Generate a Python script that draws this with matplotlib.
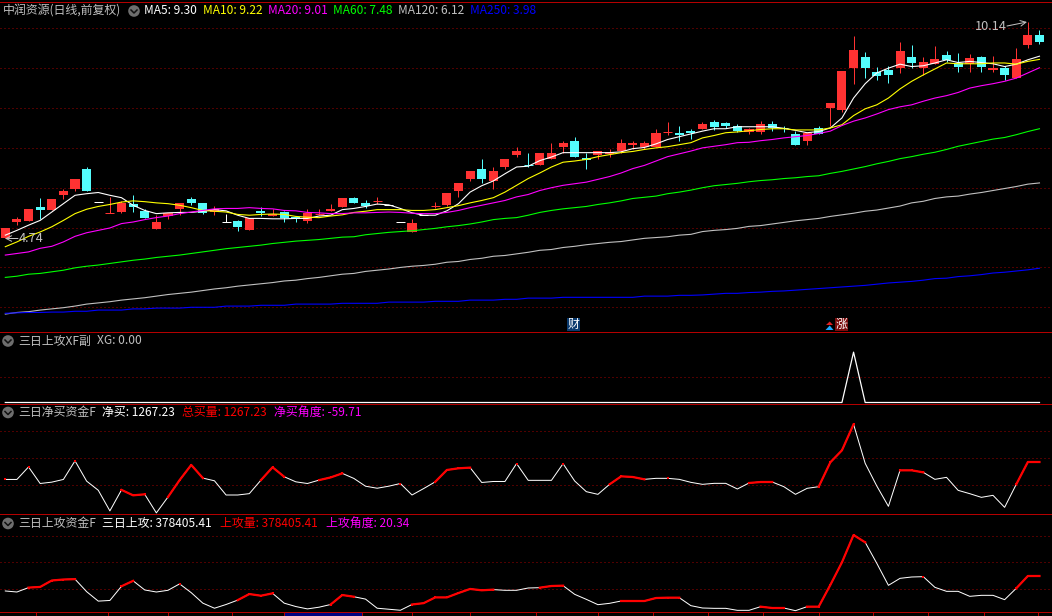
import matplotlib
matplotlib.use('Agg')
import matplotlib.pyplot as plt
import numpy as np
from matplotlib.patches import Rectangle, Circle, Polygon

plt.rcParams['font.family'] = ['Noto Sans CJK SC', 'DejaVu Sans']

W, H = 1052, 616

# daily candles
opens = [4.73,5.13,5.16,5.51,5.43,5.81,5.98,6.48,5.63,5.37,5.38,5.58,5.41,4.96,5.28,5.46,5.71,5.61,5.38,5.15,
         5.16,4.93,5.41,5.28,5.38,5.26,5.16,5.33,5.41,5.51,5.73,5.61,5.67,5.57,5.13,4.88,5.31,5.54,5.56,5.93,
         6.21,6.46,6.18,6.53,6.83,6.56,6.56,6.73,7.01,7.18,6.75,6.83,6.85,6.93,7.06,7.01,7.01,7.39,7.38,7.43,
         7.48,7.66,7.63,7.56,7.41,7.41,7.61,7.50,7.36,7.16,7.51,8.01,7.96,9.01,9.28,8.91,8.96,9.01,9.28,9.01,
         9.11,9.33,9.13,9.11,9.28,8.96,9.01,8.76,9.58,9.83]
closes = [5.00,5.21,5.46,5.43,5.71,5.93,6.23,5.93,5.63,5.38,5.61,5.51,5.23,5.13,5.36,5.61,5.61,5.36,5.46,5.15,
          5.01,5.23,5.36,5.33,5.23,5.21,5.36,5.34,5.46,5.73,5.61,5.53,5.68,5.57,5.13,5.11,5.31,5.55,5.86,6.11,
          6.41,6.21,6.41,6.73,6.91,6.55,6.88,6.88,7.13,6.78,6.69,6.91,6.90,7.13,7.13,7.11,7.38,7.40,7.33,7.38,
          7.61,7.53,7.56,7.43,7.48,7.61,7.51,7.49,7.08,7.38,7.36,8.13,8.93,9.46,9.01,8.81,8.83,9.43,9.13,9.16,
          9.23,9.21,9.03,9.26,9.03,9.01,8.83,9.23,9.83,9.66]
highs = [5.00,5.27,5.46,5.73,5.71,5.98,6.23,6.53,5.63,5.76,5.66,5.81,5.46,5.31,5.36,5.61,5.76,5.61,5.53,5.33,
         5.18,5.23,5.51,5.46,5.41,5.28,5.46,5.46,5.58,5.73,5.76,5.68,5.76,5.57,5.13,5.21,5.31,5.63,5.86,6.13,
         6.41,6.73,6.51,6.73,7.03,6.88,6.88,7.13,7.18,7.28,6.86,6.93,6.98,7.23,7.18,7.18,7.48,7.66,7.56,7.48,
         7.66,7.71,7.66,7.61,7.51,7.68,7.68,7.56,7.43,7.38,7.56,8.13,8.93,9.81,9.41,9.03,9.06,9.66,9.58,9.28,
         9.56,9.43,9.38,9.36,9.31,9.31,9.06,9.51,10.16,9.96]
lows = [4.73,5.06,5.16,5.21,5.43,5.71,5.93,5.93,5.63,5.37,5.36,5.38,5.23,4.96,5.21,5.31,5.56,5.33,5.31,5.15,
        4.91,4.93,5.28,5.28,5.13,5.13,5.11,5.31,5.41,5.51,5.61,5.48,5.60,5.57,5.13,4.88,5.31,5.49,5.53,5.76,
        6.18,6.13,5.98,6.48,6.78,6.53,6.56,6.73,6.88,6.78,6.48,6.71,6.76,6.86,6.96,6.98,7.01,7.33,7.18,7.23,
        7.48,7.46,7.51,7.41,7.36,7.36,7.43,7.41,7.08,7.08,7.36,7.56,7.91,8.61,8.76,8.71,8.63,8.88,9.01,8.83,
        9.11,9.16,8.91,8.91,8.91,8.91,8.71,8.76,9.51,9.61]

# moving averages
ma5 = [4.81,4.93,5.06,5.18,5.39,5.60,5.81,5.85,5.88,5.81,5.75,5.56,5.43,5.35,5.37,5.38,5.38,5.41,5.45,5.42,
       5.31,5.23,5.23,5.22,5.22,5.23,5.23,5.29,5.31,5.45,5.48,5.53,5.59,5.57,5.48,5.37,5.31,5.31,5.42,5.60,
       5.89,6.05,6.17,6.35,6.52,6.54,6.68,6.77,6.88,6.88,6.88,6.88,6.88,6.90,6.98,7.01,7.10,7.21,7.28,7.35,
       7.42,7.48,7.48,7.53,7.53,7.53,7.53,7.49,7.44,7.38,7.41,7.50,7.75,8.25,8.61,8.88,9.00,9.10,9.04,9.06,
       9.13,9.21,9.14,9.17,9.14,9.11,9.04,9.10,9.21,9.30]
ma10 = [4.52,4.64,4.78,4.89,5.02,5.18,5.35,5.46,5.53,5.58,5.64,5.67,5.65,5.62,5.60,5.56,5.50,5.43,5.41,5.39,
        5.33,5.31,5.33,5.34,5.33,5.28,5.26,5.25,5.29,5.32,5.38,5.41,5.45,5.45,5.45,5.43,5.43,5.45,5.50,5.55,
        5.62,5.68,5.75,5.89,6.06,6.23,6.37,6.52,6.64,6.67,6.71,6.78,6.83,6.88,6.91,6.96,7.00,7.03,7.08,7.13,
        7.25,7.31,7.38,7.40,7.43,7.46,7.48,7.48,7.45,7.45,7.45,7.50,7.58,7.81,7.98,8.08,8.25,8.48,8.67,8.83,
        8.98,9.13,9.11,9.11,9.11,9.13,9.13,9.10,9.17,9.22]
ma20 = [4.31,4.35,4.39,4.48,4.53,4.64,4.78,4.87,4.93,4.99,5.10,5.14,5.20,5.25,5.29,5.35,5.39,5.43,5.47,5.48,
        5.48,5.50,5.48,5.47,5.43,5.42,5.38,5.37,5.35,5.35,5.37,5.37,5.38,5.39,5.38,5.36,5.35,5.35,5.38,5.43,
        5.50,5.56,5.62,5.68,5.77,5.83,5.93,6.00,6.06,6.10,6.14,6.21,6.28,6.37,6.48,6.56,6.67,6.78,6.85,6.92,
        7.00,7.04,7.08,7.13,7.14,7.18,7.21,7.25,7.28,7.31,7.36,7.42,7.56,7.67,7.75,7.85,7.96,8.03,8.08,8.17,
        8.25,8.31,8.39,8.50,8.56,8.61,8.67,8.75,8.88,9.01]
ma60 = [3.75,3.78,3.83,3.85,3.89,3.93,3.99,4.03,4.06,4.10,4.14,4.18,4.21,4.25,4.28,4.31,4.35,4.39,4.43,4.47,
        4.50,4.53,4.56,4.60,4.63,4.66,4.68,4.70,4.73,4.76,4.77,4.82,4.85,4.88,4.90,4.92,4.95,4.98,5.02,5.05,
        5.09,5.14,5.20,5.23,5.25,5.31,5.38,5.43,5.47,5.50,5.53,5.58,5.62,5.67,5.73,5.76,5.79,5.85,5.89,5.94,
        6.00,6.05,6.08,6.11,6.15,6.18,6.20,6.23,6.25,6.28,6.30,6.36,6.41,6.47,6.53,6.60,6.66,6.73,6.78,6.84,
        6.89,6.96,7.04,7.10,7.16,7.22,7.26,7.33,7.41,7.48]
ma120 = [2.83,2.87,2.89,2.93,2.96,2.99,3.03,3.08,3.11,3.14,3.18,3.21,3.24,3.28,3.32,3.35,3.38,3.42,3.46,3.49,
         3.53,3.56,3.59,3.62,3.66,3.68,3.72,3.75,3.79,3.83,3.85,3.90,3.93,3.96,4.00,4.03,4.05,4.08,4.13,4.15,
         4.20,4.23,4.28,4.30,4.34,4.38,4.43,4.45,4.50,4.53,4.57,4.60,4.63,4.65,4.69,4.73,4.75,4.77,4.81,4.83,
         4.90,4.93,4.95,4.98,5.03,5.05,5.09,5.13,5.17,5.20,5.23,5.28,5.32,5.36,5.41,5.44,5.49,5.54,5.62,5.66,
         5.73,5.77,5.79,5.84,5.88,5.93,5.98,6.03,6.09,6.12]
ma250 = [2.85,2.86,2.87,2.87,2.88,2.88,2.90,2.90,2.93,2.93,2.93,2.96,2.96,2.98,2.98,2.98,3.00,3.00,3.00,3.03,
         3.03,3.03,3.05,3.05,3.05,3.08,3.08,3.08,3.08,3.10,3.10,3.10,3.10,3.13,3.13,3.13,3.13,3.15,3.15,3.15,
         3.18,3.18,3.18,3.20,3.20,3.23,3.23,3.23,3.25,3.25,3.25,3.25,3.25,3.25,3.25,3.28,3.28,3.28,3.30,3.30,
         3.31,3.33,3.35,3.35,3.37,3.38,3.40,3.41,3.43,3.45,3.47,3.49,3.51,3.53,3.55,3.58,3.61,3.63,3.65,3.68,
         3.72,3.73,3.77,3.79,3.82,3.86,3.88,3.91,3.94,3.98]

# sub panels
xg = [0]*73 + [1] + [0]*16
net_buy = [395,395,1020,192,260,395,1324,310,-146,-1177,-129,-399,-349,-1278,-484,361,1121,462,327,-383,
           -383,-315,361,1003,530,276,192,361,496,699,445,57,-45,57,192,-383,-62,276,868,952,
           986,243,293,293,1189,350,350,350,1184,317,-216,-350,150,550,517,400,450,450,400,250,
           150,200,200,-83,217,267,267,33,-350,-50,33,1250,1850,3150,1200,67,-950,850,850,750,
           400,500,-150,-317,-500,-400,-1000,150,1267,1267]
attack = [288500,282400,308800,312800,351400,357400,359500,284400,227700,231700,316900,349400,294600,282400,292600,
          331100,278400,215500,185100,207400,233700,270200,260100,274300,215500,195200,181000,191200,207400,264200,
          254000,239800,185100,179000,172900,207400,215500,249900,249900,276300,300700,292600,296600,292600,292600,
          306400,308400,318400,320400,268400,238400,206400,214400,228400,228400,228400,246400,248400,248400,200400,
          186400,184400,184400,172400,172400,194400,186400,186400,170400,194400,194400,324400,460400,624400,580400,
          454400,322400,364400,372400,374400,310400,286400,286400,256400,262400,262400,236400,304400,378405,378405]
net_red = [0,2,6,10,11,12,14,15,16,17,22,23,24,27,28,29,34,37,38,39,40,44,48,52,53,54,55,57,64,65,66,70,71,72,73,77,78,79,87,88,89]
attack_red = [2,3,4,5,6,10,11,15,20,21,22,23,28,29,30,35,36,37,38,39,40,41,42,46,47,48,53,54,55,56,57,58,
              65,66,67,69,70,71,72,73,74,79,87,88,89]

# bottom axis tick places, in candle numbers
date_ticks = [2.6,8.84,14,19.5,35,40,45.7,51,55.7,60.5,65.2,70,74.7,79.4,84.2,88.9]

RED = '#ff3232'
CYAN = '#54fcfc'
SEP = '#b40000'
GRID = '#a00000'
SILVER = '#c0c0c0'

fig = plt.figure(figsize=(W / 100, H / 100), dpi=100, facecolor='black')
x = np.arange(len(opens))
xlim = (-5.3 / 11.62, (W - 5.3) / 11.62)


def panel(top, bottom, y_top, y_bottom, grid):
    ax = fig.add_axes([0, 1 - bottom / H, 1, (bottom - top) / H], facecolor='black')
    ax.set_xlim(xlim)
    ax.set_ylim(y_bottom, y_top)
    ax.axis('off')
    for g in grid:
        ax.axhline(g, color=GRID, lw=0.72, ls=(0, (1, 3)), zorder=1)
    return ax


# main chart
ax = panel(0, 332, 10.71, 2.38, [10, 9, 8, 7, 6, 5, 4, 3])

for i in x:
    o, c, h, l = opens[i], closes[i], highs[i], lows[i]
    col = RED if c > o else CYAN if c < o else 'white'
    ax.vlines(i, l, h, color=col, lw=0.72, zorder=2)
    if abs(c - o) < 0.03:
        ax.hlines(o, i - 0.39, i + 0.39, color=col, lw=0.72, zorder=2)
    else:
        ax.bar(i, abs(c - o), bottom=min(o, c), width=0.78, color=col, linewidth=0, antialiased=False, zorder=3)

for s, col in [(ma5, 'white'), (ma10, '#ffff00'), (ma20, '#ff00ff'), (ma60, '#00ff00'), (ma120, SILVER), (ma250, '#0000ff')]:
    ax.plot(x, s, color=col, lw=0.8, zorder=4)

# XG panel
ax1 = panel(332, 404, 1.4, -0.03, [0.5])
ax1.plot(x, xg, color='white', lw=0.9, zorder=3)

# net buy panel
ax2 = panel(404, 514, 4167, -1333, [2802, 1452, 102])
ax2.plot(x, net_buy, color='white', lw=0.72, zorder=3)
y2 = np.full(len(x), np.nan)
y2[net_red] = np.array(net_buy)[net_red]
ax2.plot(x, y2, color='#ff0000', lw=1.6, marker='s', ms=1.8, mew=0, zorder=4)

# attack panel
ax3 = panel(514, 612, 750405, 162405, [616605, 460605, 298605])
ax3.plot(x, attack, color='white', lw=0.72, zorder=3)
y3 = np.full(len(x), np.nan)
y3[attack_red] = np.array(attack)[attack_red]
ax3.plot(x, y3, color='#ff0000', lw=1.6, marker='s', ms=1.8, mew=0, zorder=4)

# date strip
ax4 = panel(612, 616, 1, 0, [])
ax4.vlines(date_ticks, 0, 1, color=SEP, lw=0.72)
ax4.add_patch(Rectangle(((284 - 5.3) / 11.62, 0), 77.5 / 11.62, 1, facecolor='#000080', edgecolor=SEP, lw=0.7))

# overlay in pixels for the texts and small icons
ov = fig.add_axes([0, 0, 1, 1], facecolor='none', zorder=10)
ov.set_xlim(0, W)
ov.set_ylim(H, 0)
ov.axis('off')

for y in [1.5, 332, 404, 514, 612]:
    ov.axhline(y, color=SEP, lw=0.72, zorder=1)


def label(px, py, s, col=SILVER, size=8.6):
    ov.text(px, py, s, color=col, fontsize=size, va='center', ha='left')


def toggle(px, py):
    ov.add_patch(Circle((px, py), 5.8, facecolor='#6e6e6e', edgecolor='none'))
    ov.plot([px - 3, px, px + 3], [py - 1, py + 2, py - 1], color='#111111', lw=1.1)


label(3, 11, '中润资源(日线,前复权)')
toggle(134, 11)
label(144, 11, 'MA5: 9.30', 'white')
label(203, 11, 'MA10: 9.22', '#ffff00')
label(268, 11, 'MA20: 9.01', '#ff00ff')
label(333, 11, 'MA60: 7.48', '#00ff00')
label(398, 11, 'MA120: 6.12', SILVER)
label(470, 11, 'MA250: 3.98', '#0000ff')

toggle(8, 341)
label(18, 341, '三日上攻XF副')
label(97, 341, 'XG: 0.00')

toggle(8, 412.5)
label(18, 412.5, '三日净买资金F')
label(102, 412.5, '净买: 1267.23', 'white')
label(182, 412.5, '总买量: 1267.23', '#ff0000')
label(274, 412.5, '净买角度: -59.71', '#ff00ff')

toggle(8, 523.5)
label(18, 523.5, '三日上攻资金F')
label(102, 523.5, '三日上攻: 378405.41', 'white')
label(220, 523.5, '上攻量: 378405.41', '#ff0000')
label(326, 523.5, '上攻角度: 20.34', '#ff00ff')

# high and low notes
label(19, 239, '4.74', size=9.2)
ov.annotate('', xy=(5, 238.5), xytext=(18, 238.5), arrowprops=dict(arrowstyle='->', color=SILVER, lw=0.72, shrinkA=0, shrinkB=0))
label(975, 27, '10.14', size=9.2)
ov.annotate('', xy=(1027, 22), xytext=(1007, 26), arrowprops=dict(arrowstyle='->', color=SILVER, lw=0.72, shrinkA=0, shrinkB=0))

# event icons above the separator
ov.add_patch(Rectangle((567, 318), 13, 13, facecolor='#0a3a6e', edgecolor='none'))
ov.text(573.5, 324.5, '财', color='white', fontsize=8.6, ha='center', va='center')
ov.add_patch(Rectangle((835, 318), 13, 13, facecolor='#7a0c0c', edgecolor='none'))
ov.text(841.5, 324.5, '涨', color='white', fontsize=8.6, ha='center', va='center')
ov.add_patch(Polygon([[826, 325], [829.7, 321.5], [833, 325]], facecolor='#e02020', edgecolor='none'))
ov.add_patch(Polygon([[825.5, 330], [829.7, 325.5], [833.5, 330]], facecolor='#20a8ff', edgecolor='none'))

fig.savefig('out.png', dpi=100, facecolor='black')
